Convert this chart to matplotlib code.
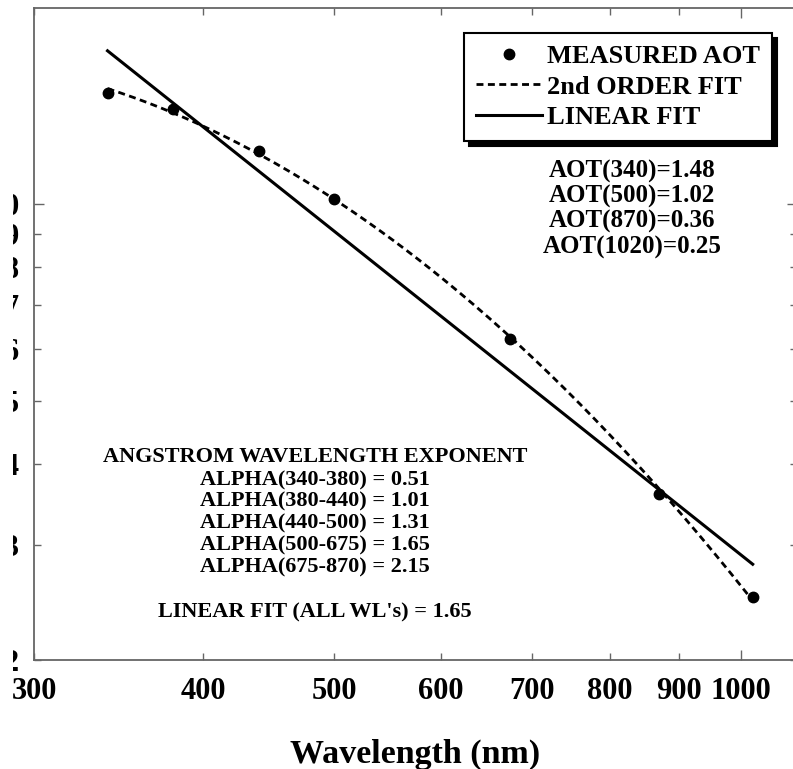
import numpy as np
import matplotlib
matplotlib.use("Agg")
import matplotlib.pyplot as plt
from matplotlib.ticker import FixedLocator, FixedFormatter
from matplotlib.patches import Rectangle

# Measured aerosol optical thickness at each sun-photometer channel
wavelength_nm = [340, 380, 440, 500, 675, 870, 1020]
aot = [1.48, 1.40, 1.206, 1.02, 0.622, 0.360, 0.25]

# Axis ticks (log-log axes)
x_major_ticks = [1000]
x_minor_ticks = [300, 400, 500, 600, 700, 800, 900]
y_major_ticks = [1.0]
y_minor_ticks = [0.2, 0.3, 0.4, 0.5, 0.6, 0.7, 0.8, 0.9]

legend_labels = ["MEASURED AOT", "2nd ORDER FIT", "LINEAR FIT"]
aot_lines = ["AOT(340)=1.48", "AOT(500)=1.02", "AOT(870)=0.36", "AOT(1020)=0.25"]
alpha_title = "ANGSTROM WAVELENGTH EXPONENT"
alpha_lines = [
    "ALPHA(340-380) = 0.51",
    "ALPHA(380-440) = 1.01",
    "ALPHA(440-500) = 1.31",
    "ALPHA(500-675) = 1.65",
    "ALPHA(675-870) = 2.15",
]
linear_fit_text = "LINEAR FIT (ALL WL's) = 1.65"

plt.rcParams['font.family'] = ['Liberation Serif', 'DejaVu Serif']
plt.rcParams['font.weight'] = 'bold'
plt.rcParams['axes.labelweight'] = 'bold'

fig = plt.figure(figsize=(7.93, 7.69), dpi=100)
ax = fig.add_axes([0.0429, 0.1417, 0.9622, 0.8479])

# Fits in log-log space
lnx = np.log(wavelength_nm)
lny = np.log(aot)
quad = np.polyfit(lnx, lny, 2)
lin = np.polyfit(lnx, lny, 1)
xs = np.geomspace(min(wavelength_nm), max(wavelength_nm), 300)

pts, = ax.plot(wavelength_nm, aot, 'o', color='black', ms=7.5, ls='none', zorder=4)
dash, = ax.plot(xs, np.exp(np.polyval(quad, np.log(xs))), color='black', lw=2.0,
                dashes=(2.5, 1.6), zorder=3)
solid, = ax.plot(xs, np.exp(np.polyval(lin, np.log(xs))), color='black', lw=2.2, zorder=3)

ax.set_xscale('log')
ax.set_yscale('log')
ax.set_xlim(300, 1100)
ax.set_ylim(0.2, 2.0)

ax.xaxis.set_major_locator(FixedLocator(x_major_ticks))
ax.xaxis.set_major_formatter(FixedFormatter([str(v) for v in x_major_ticks]))
ax.xaxis.set_minor_locator(FixedLocator(x_minor_ticks))
ax.xaxis.set_minor_formatter(FixedFormatter([str(v) for v in x_minor_ticks]))
ax.yaxis.set_major_locator(FixedLocator(y_major_ticks))
ax.yaxis.set_major_formatter(FixedFormatter([f"{v:.1f}" for v in y_major_ticks]))
ax.yaxis.set_minor_locator(FixedLocator(y_minor_ticks))
ax.yaxis.set_minor_formatter(FixedFormatter([f"{v:.1f}" for v in y_minor_ticks]))

frame_color = '0.4'
for sp in ax.spines.values():
    sp.set_color(frame_color)
    sp.set_linewidth(1.3)
ax.tick_params(which='both', direction='in', top=True, right=True,
               color=frame_color, width=1.0, labelsize=22)
ax.tick_params(which='major', length=7.5)
ax.tick_params(which='minor', length=5)
ax.tick_params(axis='x', which='both', pad=12)
ax.tick_params(axis='y', which='both', pad=10)

ax.set_xlabel("Wavelength (nm)", fontsize=24.5, fontweight='bold', labelpad=24)

leg = ax.legend([pts, dash, solid], legend_labels, loc='upper right',
                bbox_to_anchor=(0.967, 0.962), borderaxespad=0,
                prop={'size': 19, 'weight': 'bold'}, handlelength=2.5,
                handletextpad=0.2, labelspacing=0.27, borderpad=0.45,
                fancybox=False, framealpha=1, edgecolor='black',
                shadow={'ox': 3.5, 'oy': -3.5, 'color': 'black', 'alpha': 1})
leg.get_frame().set_linewidth(1.5)

for i, s in enumerate(aot_lines):
    ax.text(0.784, 0.7393 - i * 0.0384, s, transform=ax.transAxes,
            ha='center', va='baseline', fontsize=18)

ax.text(0.368, 0.3037, alpha_title, transform=ax.transAxes,
        ha='center', va='baseline', fontsize=16)
for i, s in enumerate(alpha_lines):
    ax.text(0.368, 0.2684 - i * 0.0334, s, transform=ax.transAxes,
            ha='center', va='baseline', fontsize=16)
ax.text(0.368, 0.066, linear_fit_text, transform=ax.transAxes,
        ha='center', va='baseline', fontsize=16)

# trimmed left margin of the page
fig.patches.append(Rectangle((0, 0), 13 / 793, 1, transform=fig.transFigure,
                             facecolor='white', edgecolor='none', zorder=10))

fig.savefig("out.png", dpi=100)
